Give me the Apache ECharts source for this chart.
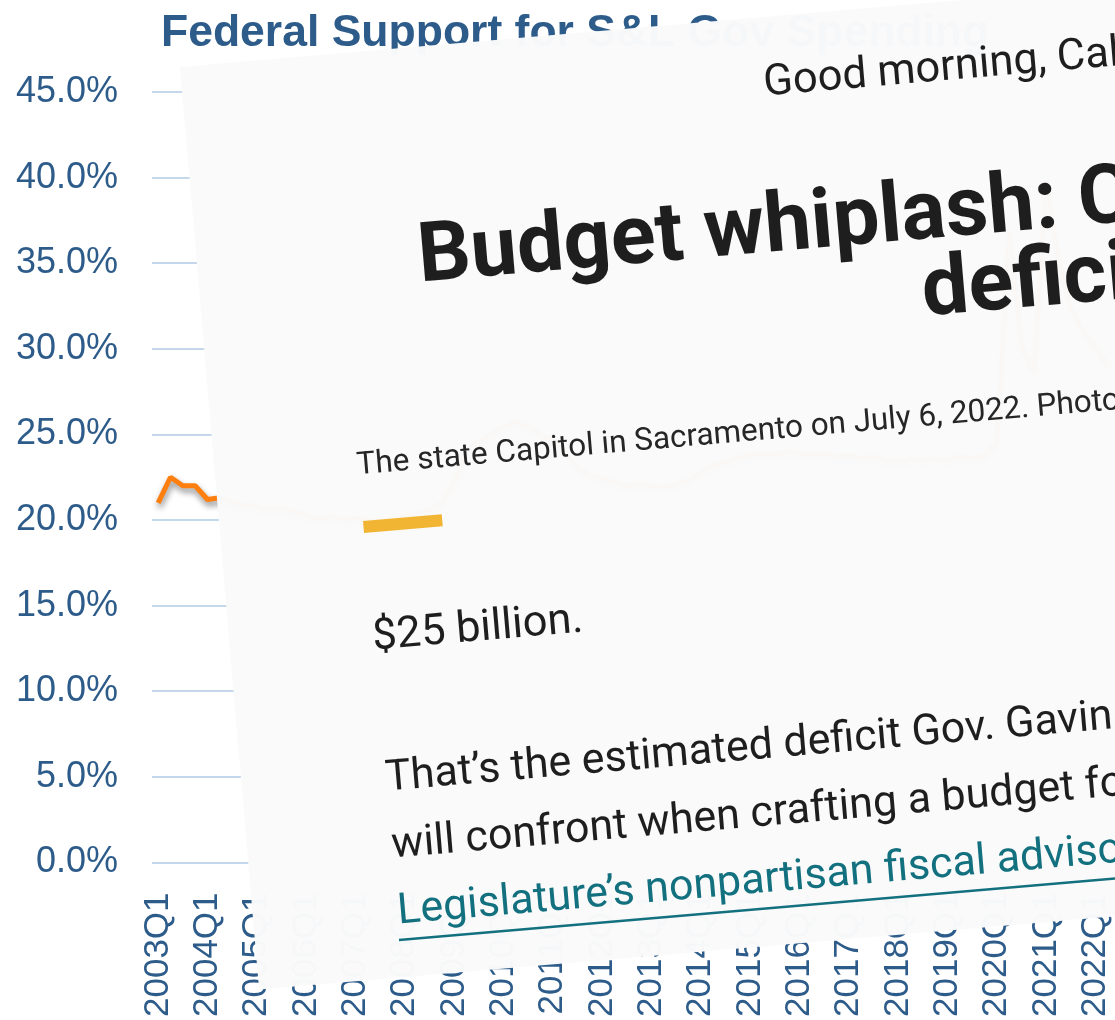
<!DOCTYPE html>
<html>
<head>
<meta charset="utf-8">
<script src="https://cdn.jsdelivr.net/npm/echarts@6/dist/echarts.min.js"></script>
<style>
  html, body { margin: 0; padding: 0; background: #ffffff; }
  #chart { width: 1115px; height: 1020px; }
</style>
</head>
<body>
<div id="chart"></div>
<script>
// ---------------- data ----------------
const chartTitle = 'Federal Support for S&L Gov Spending';
const quarters = [
  '2003Q1','2003Q2','2003Q3','2003Q4','2004Q1','2004Q2','2004Q3','2004Q4',
  '2005Q1','2005Q2','2005Q3','2005Q4','2006Q1','2006Q2','2006Q3','2006Q4',
  '2007Q1','2007Q2','2007Q3','2007Q4','2008Q1','2008Q2','2008Q3','2008Q4',
  '2009Q1','2009Q2','2009Q3','2009Q4','2010Q1','2010Q2','2010Q3','2010Q4',
  '2011Q1','2011Q2','2011Q3','2011Q4','2012Q1','2012Q2','2012Q3','2012Q4',
  '2013Q1','2013Q2','2013Q3','2013Q4','2014Q1','2014Q2','2014Q3','2014Q4',
  '2015Q1','2015Q2','2015Q3','2015Q4','2016Q1','2016Q2','2016Q3','2016Q4',
  '2017Q1','2017Q2','2017Q3','2017Q4','2018Q1','2018Q2','2018Q3','2018Q4',
  '2019Q1','2019Q2','2019Q3','2019Q4','2020Q1','2020Q2','2020Q3','2020Q4',
  '2021Q1','2021Q2','2021Q3','2021Q4','2022Q1','2022Q2'
];
// federal support share (%) — first quarters read from the visible part, rest estimated (hidden)
const federalShare = [
  21.0, 22.5, 22.0, 22.0,  21.2, 21.3, 21.0, 20.9,
  20.8, 20.6, 20.7, 20.5,  20.3, 20.1, 20.2, 20.0,
  20.1, 20.0, 19.9, 20.1,  20.2, 20.4, 20.6, 21.0,
  22.3, 24.1, 24.6, 25.0,  25.4, 25.8, 25.5, 25.0,
  24.6, 23.9, 23.1, 22.6,  22.4, 22.2, 22.0, 22.1,
  22.0, 21.9, 22.1, 22.3,  22.8, 23.2, 23.4, 23.6,
  23.8, 23.9, 23.8, 24.0,  23.9, 23.8, 23.9, 23.7,
  23.8, 23.6, 23.7, 23.5,  23.4, 23.6, 23.5, 23.6,
  23.5, 23.7, 23.6, 23.8,  24.5, 36.9, 30.2, 28.6,
  39.8, 35.1, 32.4, 31.0,  30.1, 29.0
];
const yTicks = { min: 0, max: 45, interval: 5 };

// overlaid article screenshot text
const articleGreeting = 'Good morning, California.';
const articleHeadline1 = 'Budget whiplash: California faces';
const articleHeadline2 = 'deficit';
const articleCaption = 'The state Capitol in Sacramento on July 6, 2022. Photo by Rahul Lal';
const articleLead = '$25 billion.';
const articleBody = [
  'That\u2019s the estimated deficit Gov. Gavin Newsom',
  'will confront when crafting a budget for'
];
const articleLink = 'Legislature\u2019s nonpartisan fiscal advisor';

// ---------------- layout helpers ----------------
const TH = 4.9 * Math.PI / 180;
const S = Math.sin(TH), C = Math.cos(TH);
const BLUE = '#2E5C8A';
// place text whose left baseline should land at screen (sx, sy)
function txt(text, sx, sy, size, weight, color) {
  const d = 0.40 * size;
  return {
    type: 'text', x: sx - d * S, y: sy - d * C, rotation: TH, z: 110,
    style: {
      text: text, fontSize: size, fontWeight: weight, fontFamily: 'Roboto',
      fill: color, textAlign: 'left', textVerticalAlign: 'middle', verticalAlign: 'middle'
    }
  };
}

const graphics = [
  { type: 'rect', x: 180, y: 67, rotation: TH, z: 100,
    shape: { x: 0, y: 0, width: 1400, height: 926 },
    style: { fill: 'rgba(250,250,250,0.985)' } },
  txt(articleGreeting, 765, 102, 43.5, 'normal', '#1e1e1e'),
  txt(articleHeadline1, 421, 294, 83, 'bold', '#1e1e1e'),
  txt(articleHeadline2, 925, 328, 83, 'bold', '#1e1e1e'),
  txt(articleCaption, 358, 479, 31.5, 'normal', '#262626'),
  { type: 'rect', x: 363, y: 521, rotation: TH, z: 110,
    shape: { x: 0, y: 0, width: 79, height: 12 },
    style: { fill: '#F2B533' } },
  txt(articleLead, 374, 656, 43.5, 'normal', '#1e1e1e'),
  txt(articleBody[0], 387, 797, 43, 'normal', '#1e1e1e'),
  txt(articleBody[1], 393, 864, 43, 'normal', '#1e1e1e'),
  txt(articleLink, 399, 930, 43, 'normal', '#13707F'),
  { type: 'line', x: 399, y: 940, rotation: TH, z: 110,
    shape: { x1: 0, y1: 0, x2: 900, y2: 0 },
    style: { stroke: '#13707F', lineWidth: 2.5 } }
];

const chart = echarts.init(document.getElementById('chart'));
chart.setOption({
  backgroundColor: '#ffffff',
  animation: false,
  title: {
    text: chartTitle, left: 161, top: 11, padding: 0,
    textStyle: { fontFamily: 'Liberation Sans, Arial, sans-serif', fontSize: 44.5, fontWeight: 'bold', color: BLUE }
  },
  grid: { left: 152, right: 1, top: 92, bottom: 157, containLabel: false },
  xAxis: {
    type: 'category', data: quarters, boundaryGap: true,
    axisLine: { show: false }, axisTick: { show: false },
    axisLabel: {
      interval: 3, rotate: 90, margin: 30, color: BLUE,
      fontFamily: 'Liberation Sans, Arial, sans-serif', fontSize: 35
    },
    splitLine: { show: false }
  },
  yAxis: {
    type: 'value', min: yTicks.min, max: yTicks.max, interval: yTicks.interval,
    axisLine: { show: false }, axisTick: { show: false },
    axisLabel: {
      margin: 34, color: BLUE, fontFamily: 'Liberation Sans, Arial, sans-serif', fontSize: 36,
      formatter: v => v.toFixed(1) + '%'
    },
    splitLine: { lineStyle: { color: '#C5D8EB', width: 2 } }
  },
  series: [{
    type: 'line', data: federalShare, showSymbol: false,
    lineStyle: { color: '#FF7F0E', width: 5, shadowColor: 'rgba(0,0,0,0.45)', shadowBlur: 6, shadowOffsetY: 4, shadowOffsetX: 1 },
    itemStyle: { color: '#FF7F0E' }
  }],
  graphic: { elements: graphics }
});
</script>
</body>
</html>
